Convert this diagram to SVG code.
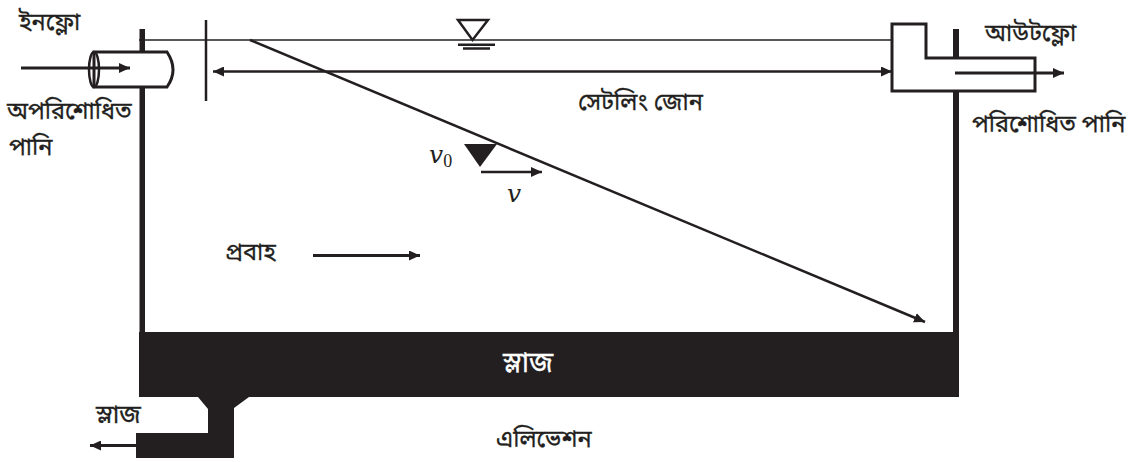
<svg xmlns="http://www.w3.org/2000/svg" width="1134" height="462" viewBox="0 0 1134 462">
<style>
.l{fill:none;stroke:#231f20;stroke-width:2.5}
.h{fill:none;stroke:#231f20;stroke-width:3.2}
.t{font-family:"Noto Sans","Noto Sans Bengali","Lohit Bengali","Liberation Sans",sans-serif;font-size:23.500px;fill:#231f20;stroke:#231f20;stroke-width:.3}
.m{font-family:"DejaVu Serif",serif;font-style:italic;font-size:25px;fill:#231f20}
.s{font-family:"Liberation Serif",serif;font-style:normal;font-size:18px}
.f{fill:#231f20}
</style>
<defs>
<marker id="a" markerUnits="userSpaceOnUse" markerWidth="12" markerHeight="10" refX="11" refY="5" orient="auto-start-reverse"><path d="M0 0L11 5L0 10Z" fill="#231f20"/></marker>
</defs>
<rect width="1134" height="462" fill="#fff"/>
<g id="tank">
<rect class="f" x="139.500" y="29" width="5.500" height="310"/>
<rect class="f" x="953" y="29" width="6" height="310"/>
<path class="f" d="M139 332H959V397H249L234 408V458H136V433H208V409L198 397H139Z"/>
</g>
<g id="inlet-pipe">
<path d="M94 52H167Q179 70 167 87H94Z" fill="#fff" stroke="#231f20" stroke-width="3"/>
<ellipse cx="94" cy="69.500" rx="5" ry="17.500" fill="none" stroke="#231f20" stroke-width="2.500"/>
</g>
<g id="outlet">
<path d="M892 24H926V58H1035V91H892Z" fill="#fff" stroke="#231f20" stroke-width="3"/>
</g>
<g id="baffle"><path class="l" d="M206 20V101"/></g>
<g id="water-symbol">
<path d="M458 20H488L472.500 40Z" fill="none" stroke="#231f20" stroke-width="2.500"/>
<path d="M458 44.800H495M463 48.500H490" stroke="#231f20" stroke-width="2.500" fill="none"/>
</g>
<g id="velocity-triangle"><path class="f" d="M464 144H497L480 167Z"/></g>
<g id="connectors">
<path d="M139 40H892" stroke="#231f20" stroke-width="1.500" fill="none"/>
<path class="l" d="M250 40L925 322" marker-end="url(#a)"/>
<path class="l" d="M213 71.500H892" marker-start="url(#a)" marker-end="url(#a)"/>
<path class="h" d="M21 68H130" marker-end="url(#a)"/>
<path class="h" d="M955 73H1064" marker-end="url(#a)"/>
<path class="l" d="M481 172H542" marker-end="url(#a)"/>
<path class="h" d="M313 255.500H420" marker-end="url(#a)"/>
<path class="h" d="M136 445.500H90" marker-end="url(#a)"/>
</g>
<g id="labels">
<text class="t" x="19" y="30">ইনফ্লো</text>
<text class="t" x="7" y="119">অপরিশোধিত</text>
<text class="t" x="9" y="155">পানি</text>
<text class="t" x="985" y="41">আউটফ্লো</text>
<text class="t" x="972" y="132">পরিশোধিত পানি</text>
<text class="t" x="578" y="110">সেটলিং জোন</text>
<text class="t" x="225" y="260">প্রবাহ</text>
<text class="t" x="503" y="372" style="fill:#fff;stroke:#fff;font-size:28px">স্লাজ</text>
<text class="t" x="96" y="423" style="font-size:25px">স্লাজ</text>
<text class="t" x="496" y="447">এলিভেশন</text>
<text class="m" x="429" y="163">v<tspan class="s" dy="4">0</tspan></text>
<text class="m" x="507" y="202">v</text>
</g>
</svg>
